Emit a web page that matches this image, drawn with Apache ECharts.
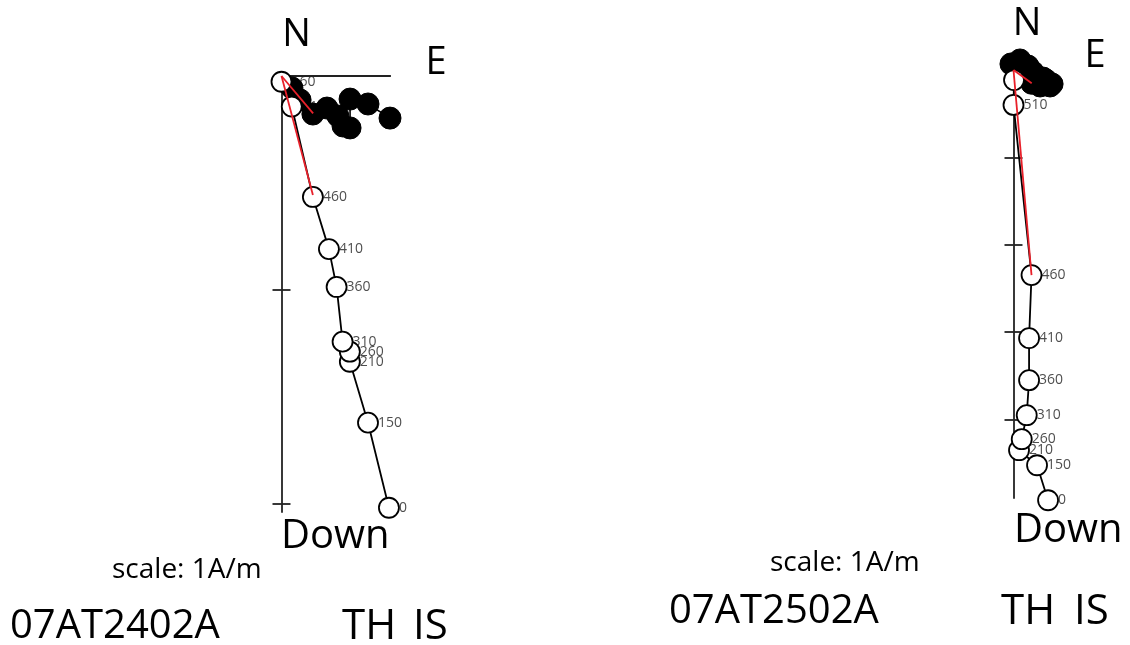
<!DOCTYPE html>
<html>
<head>
<meta charset="utf-8">
<script src="https://cdn.jsdelivr.net/npm/echarts@6/dist/echarts.min.js"></script>
<style>
html,body{margin:0;padding:0;background:#fff;}
#chart{width:1130px;height:645px;}
</style>
</head>
<body>
<div id="chart"></div>
<script>
// Demagnetisation steps (labels on the vertical-projection points)
const steps = ['0', '150', '210', '260', '310', '360', '410', '460', '510', '560'];

// Sample 07AT2402A  (units: A/m-scaled axis units, x = E, y = Down / S)
const openLeft = [[0.503, 2.02], [0.405, 1.622], [0.32, 1.337], [0.32, 1.29], [0.286, 1.243],
                  [0.258, 0.987], [0.222, 0.81], [0.147, 0.566], [0.048, 0.143], [0.0, 0.027]];
const filledLeft = [[0.508, 0.197], [0.405, 0.131], [0.321, 0.108], [0.321, 0.243], [0.288, 0.234],
                    [0.264, 0.187], [0.213, 0.150], [0.147, 0.178], [0.087, 0.112], [0.049, 0.056]];
const fitLeftV = [[0, 0], [0.147, 0.557]];
const fitLeftH = [[0, 0], [0.148, 0.175]];
const ticksLeft = [1, 2];

// Sample 07AT2502A
const openRight = [[0.395, 4.926], [0.269, 4.525], [0.063, 4.353], [0.094, 4.227], [0.151, 3.952],
                   [0.178, 3.551], [0.178, 3.07], [0.206, 2.348], [0.0, 0.40], [0.006, 0.115]];
const filledRight = [[0.441, 0.160], [0.166, -0.046], [0.338, 0.092], [0.418, 0.183], [0.372, 0.115],
                     [0.304, 0.183], [0.223, 0.023], [0.208, 0.152], [0.074, -0.115], [-0.029, -0.069]];
const fitRightV = [[0, 0], [0.206, 2.348]];
const fitRightH = [[0, 0], [0.208, 0.152]];
const ticksRight = [1, 2, 3, 4];

const FONT = "'Open Sans', 'Noto Sans', sans-serif";
const AXC = '#222';

function named(arr) { return arr.map((v, i) => ({ value: v, name: steps[i] })); }

function xAx(gi, max) {
  return { gridIndex: gi, type: 'value', position: 'top', min: 0, max: max,
    axisLine: { show: true, onZero: false, lineStyle: { color: AXC, width: 1.8 } },
    axisTick: { show: false }, axisLabel: { show: false }, splitLine: { show: false } };
}
function yAx(gi, max, ticks, inside, showLine) {
  return { gridIndex: gi, type: 'value', position: 'left', inverse: true, min: 0, max: max, interval: 1,
    axisLine: { show: showLine, onZero: false, lineStyle: { color: AXC, width: 1.8 } },
    axisTick: { show: true, inside: inside, length: 9, customValues: ticks, lineStyle: { color: AXC, width: 1.8 } },
    axisLabel: { show: false }, splitLine: { show: false } };
}

function panelSeries(ai, open, filled, fitV, fitH) {
  return [
    { type: 'scatter', xAxisIndex: ai, yAxisIndex: ai, z: 2, clip: false, silent: true,
      data: named(open), symbolSize: 20, itemStyle: { color: 'rgba(0,0,0,0)' },
      label: { show: true, position: 'right', distance: 0, formatter: '{b}',
        fontSize: 14, fontFamily: FONT, color: '#222' } },
    { type: 'line', xAxisIndex: ai, yAxisIndex: ai, z: 3, clip: false, silent: true,
      data: filled, symbol: 'circle', symbolSize: 22,
      itemStyle: { color: '#000', borderColor: '#000', borderWidth: 1 },
      lineStyle: { color: '#000', width: 1.6 } },
    { type: 'line', xAxisIndex: ai, yAxisIndex: ai, z: 4, clip: false, silent: true,
      data: open, symbol: 'circle', symbolSize: 20,
      itemStyle: { color: '#fff', borderColor: '#000', borderWidth: 1.8 },
      lineStyle: { color: '#000', width: 1.8 } },
    { type: 'line', xAxisIndex: ai, yAxisIndex: ai, z: 5, clip: false, silent: true,
      data: fitV, symbol: 'none', lineStyle: { color: '#e8202a', width: 1.8 } },
    { type: 'line', xAxisIndex: ai, yAxisIndex: ai, z: 5, clip: false, silent: true,
      data: fitH, symbol: 'none', lineStyle: { color: '#e8202a', width: 1.8 } }
  ];
}

function txt(x, y, text, size, align) {
  return { type: 'text', x: x, y: y, z: 10,
    style: { text: text, font: size + 'px ' + FONT, fill: '#000',
      textAlign: align || 'left', textVerticalAlign: 'middle' } };
}

const chart = echarts.init(document.getElementById('chart'), null, { renderer: 'canvas' });
chart.setOption({
  animation: false,
  backgroundColor: '#fff',
  grid: [
    { left: 281.5, top: 76, width: 108.5, height: 436, outerBoundsMode: 'none', containLabel: false },
    { left: 1013.5, top: 70, width: 35, height: 428, outerBoundsMode: 'none', containLabel: false }
  ],
  xAxis: [xAx(0, 0.508), xAx(1, 0.4), xAx(0, 0.508), xAx(1, 0.4)],
  yAxis: [yAx(0, 2.04, ticksLeft, false, true), yAx(1, 4.9, ticksRight, false, true),
          yAx(0, 2.04, ticksLeft, true, false), yAx(1, 4.9, ticksRight, true, false)],
  series: [].concat(
    panelSeries(0, openLeft, filledLeft, fitLeftV, fitLeftH),
    panelSeries(1, openRight, filledRight, fitRightV, fitRightH)
  ),
  graphic: [
    txt(296.5, 35, 'N', 38, 'center'),
    txt(436, 63, 'E', 38, 'center'),
    txt(281, 537, 'Down', 40),
    txt(112, 570, 'scale: 1A/m', 28),
    txt(10, 627, '07AT2402A', 40),
    txt(342, 627, 'TH', 42),
    txt(413, 627, 'IS', 42),
    txt(1027, 24, 'N', 38, 'center'),
    txt(1095, 56, 'E', 38, 'center'),
    txt(1014, 531, 'Down', 40),
    txt(770, 563, 'scale: 1A/m', 28),
    txt(669, 612, '07AT2502A', 40),
    txt(1001, 612, 'TH', 42),
    txt(1074, 612, 'IS', 42)
  ]
});
</script>
</body>
</html>
